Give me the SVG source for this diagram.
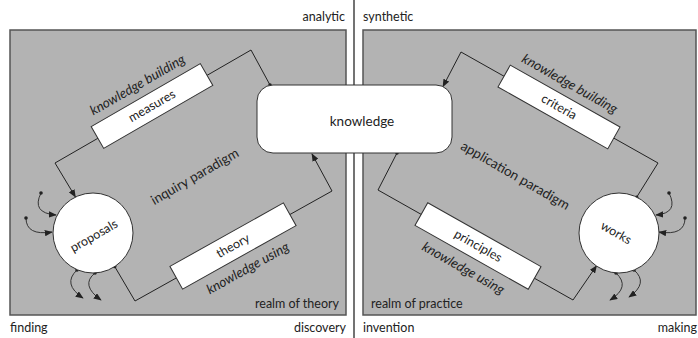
<svg xmlns="http://www.w3.org/2000/svg" width="698" height="338" viewBox="0 0 698 338">
<defs>
<marker id="arr" viewBox="0 0 10 8" refX="9" refY="4" markerWidth="8" markerHeight="6.4" markerUnits="userSpaceOnUse" orient="auto">
<path d="M0,0 L10,4 L0,8 z" fill="#222"/>
</marker>
<marker id="dot" viewBox="0 0 4 4" refX="2" refY="2" markerWidth="4" markerHeight="4" markerUnits="userSpaceOnUse">
<circle cx="2" cy="2" r="1.8" fill="#222"/>
</marker>
<style>
text{font-family:Lato,"Open Sans","Liberation Sans",sans-serif;font-size:12.5px;fill:#222}
.panel{fill:#b3b3b3;stroke:#555;stroke-width:1.5}
.box{fill:#fff;stroke:#333;stroke-width:1}
.ln{fill:none;stroke:#222;stroke-width:1}
.sm{fill:none;stroke:#333;stroke-width:1}
.mid{text-anchor:middle}
.end{text-anchor:end}
.it{font-style:italic;font-size:13.5px}
.big{font-size:13.5px}
</style>
</defs>

<rect class="panel" x="10" y="30" width="336" height="285"/>
<rect class="panel" x="363" y="30" width="333" height="285"/>
<line x1="354" y1="0" x2="354" y2="338" stroke="#444" stroke-width="1.5"/>

<text class="end" x="345" y="21">analytic</text>
<text x="363" y="21">synthetic</text>
<text x="10" y="332">finding</text>
<text class="end" x="346" y="332">discovery</text>
<text x="363" y="332">invention</text>
<text class="end" x="697" y="332">making</text>
<text class="end" x="339" y="308">realm of theory</text>
<text x="371" y="308">realm of practice</text>
<text class="mid big" transform="translate(195,177) rotate(-30)" y="4">inquiry paradigm</text>
<text class="mid big" transform="translate(515,176) rotate(30)" y="4">application paradigm</text>

<g id="connectors">
<path class="ln" d="M270,85 L251,50 L55,163 L75.4,196.9" marker-start="url(#dot)" marker-end="url(#arr)"/>
<path class="ln" d="M114.7,266.5 L135,301 L332,191 L312,154" marker-start="url(#dot)" marker-end="url(#arr)"/>
<path class="ln" d="M636.6,197.3 L658,163 L461,52 L443,86.5" marker-start="url(#dot)" marker-end="url(#arr)"/>
<path class="ln" d="M397,153 L378,190 L573,300 L596.5,265.8" marker-start="url(#dot)" marker-end="url(#arr)"/>
<path class="sm" d="M41,193 Q31,213 56,215" marker-start="url(#dot)" marker-end="url(#arr)"/>
<path class="sm" d="M26,218 Q26,236 52,232" marker-start="url(#dot)" marker-end="url(#arr)"/>
<path class="sm" d="M77,270 Q62,284 83,298" marker-start="url(#dot)" marker-end="url(#arr)"/>
<path class="sm" d="M95,273 Q80,285 101,300" marker-start="url(#dot)" marker-end="url(#arr)"/>
<path class="sm" d="M669,193 Q679,213 656,215" marker-start="url(#dot)" marker-end="url(#arr)"/>
<path class="sm" d="M685,218 Q685,236 659,232" marker-start="url(#dot)" marker-end="url(#arr)"/>
<path class="sm" d="M616,273 Q631,287 610,300" marker-start="url(#dot)" marker-end="url(#arr)"/>
<path class="sm" d="M634,270 Q649,283 629,297" marker-start="url(#dot)" marker-end="url(#arr)"/>
<text class="mid it" transform="translate(152,106) rotate(-30)" x="-2" y="-21">knowledge building</text>
<text class="mid it" transform="translate(233,246) rotate(-29.2)" x="2" y="31">knowledge using</text>
<text class="mid it" transform="translate(559,107) rotate(29.4)" x="-2" y="-21">knowledge building</text>
<text class="mid it" transform="translate(478,246) rotate(29.4)" x="-2" y="31">knowledge using</text>
</g>

<g id="knowledge">
<rect class="box" x="257" y="85" width="195" height="68" rx="16"/>
<text class="mid" x="362" y="126" style="font-size:13.5px">knowledge</text>
</g>
<g id="measures" transform="translate(152,106) rotate(-30)">
<rect class="box" x="-63" y="-12.5" width="126" height="25"/>
<text class="mid" y="4">measures</text>
</g>
<g id="theory" transform="translate(233,246) rotate(-29.2)">
<rect class="box" x="-65" y="-13" width="130" height="26"/>
<text class="mid" y="4">theory</text>
</g>
<g id="criteria" transform="translate(559,107) rotate(29.4)">
<rect class="box" x="-63" y="-12.5" width="126" height="25"/>
<text class="mid" y="4">criteria</text>
</g>
<g id="principles" transform="translate(478,246) rotate(29.4)">
<rect class="box" x="-65" y="-13" width="130" height="26"/>
<text class="mid" y="4">principles</text>
</g>
<g id="proposals">
<circle class="box" cx="93" cy="233" r="40"/>
<text class="mid" transform="translate(94,236) rotate(-30)" y="4">proposals</text>
</g>
<g id="works">
<circle class="box" cx="619" cy="233" r="40"/>
<text class="mid" transform="translate(616,233) rotate(30)" y="4">works</text>
</g>
</svg>
